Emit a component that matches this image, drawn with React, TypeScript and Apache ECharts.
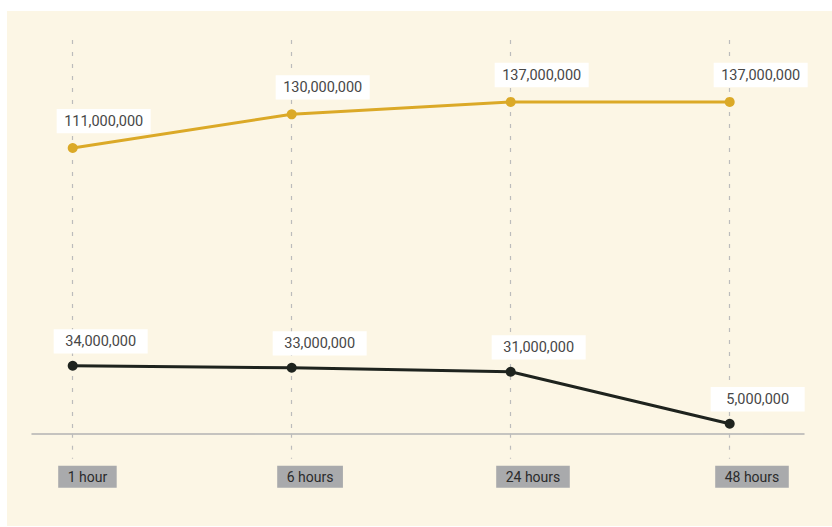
import React, { useEffect, useRef } from "react";
import * as echarts from "echarts";

const categories = ["1 hour", "6 hours", "24 hours", "48 hours"];
const goldValues = [111000000, 130000000, 137000000, 137000000];
const darkValues = [34000000, 33000000, 31000000, 5000000];

const FONT = "Roboto, 'Liberation Sans', sans-serif";
const GOLD = "#dba927";
const DARK = "#1e231e";

const fmt = (v: number) => v.toLocaleString("en-US");

export default function App() {
  const ref = useRef<HTMLDivElement>(null);
  useEffect(() => {
    if (!ref.current) return;
    const chart = echarts.init(ref.current, undefined, { renderer: "svg" });
    const gridBox = { top: 29, bottom: 92.3 };
    const dashStyle = { color: "#bcbcbc", width: 1.2, type: [4, 8] };
    const dataLabel = (dx: number, dist: number) => ({
      show: true,
      position: "top",
      distance: dist,
      offset: [dx, 0],
      formatter: (p: any) => fmt(p.value),
      backgroundColor: "#ffffff",
      width: 94,
      align: "center",
      padding: [4, 0, 4, 0],
      lineHeight: 16.4,
      fontSize: 14.5,
      fontFamily: FONT,
      color: "#474747",
    });
    chart.setOption({
      animation: false,
      backgroundColor: "transparent",
      grid: [
        { left: 65.7, right: 102.3, ...gridBox },
        { left: 25, right: 28, ...gridBox },
        { left: 51.2, right: 116.8, ...gridBox },
      ],
      xAxis: [
        {
          type: "category",
          gridIndex: 0,
          data: categories,
          boundaryGap: false,
          axisLine: { show: false },
          axisLabel: { show: false },
          axisTick: { show: true, length: 25, lineStyle: dashStyle },
          splitLine: { show: true, lineStyle: dashStyle },
        },
        {
          type: "value",
          gridIndex: 1,
          min: 0,
          max: 1,
          axisLine: { show: true, onZero: false, lineStyle: { color: "#b3b3b3", width: 1.5 } },
          axisTick: { show: false },
          axisLabel: { show: false },
          splitLine: { show: false },
        },
        {
          type: "category",
          gridIndex: 2,
          data: categories,
          boundaryGap: false,
          axisLine: { show: false },
          axisTick: { show: false },
          splitLine: { show: false },
          axisLabel: {
            show: true,
            align: "left",
            margin: 32,
            interval: 0,
            backgroundColor: "#a9aaac",
            padding: [2.5, 9.5, 2.5, 9.5],
            lineHeight: 17,
            fontSize: 14,
            fontFamily: FONT,
            color: "#2b2b2b",
          },
        },
      ],
      yAxis: [
        { type: "value", gridIndex: 0, min: 0, max: 197000000, show: false, splitLine: { show: false } },
        { type: "value", gridIndex: 0, min: -50100000, max: 171900000, show: false, splitLine: { show: false } },
        { type: "value", gridIndex: 1, show: false, splitLine: { show: false } },
        { type: "value", gridIndex: 2, show: false, splitLine: { show: false } },
      ],
      series: [
        {
          type: "line",
          xAxisIndex: 0,
          yAxisIndex: 1,
          data: goldValues,
          symbol: "circle",
          symbolSize: 10,
          lineStyle: { color: GOLD, width: 3 },
          itemStyle: { color: GOLD },
          label: dataLabel(31, 9.7),
          z: 3,
        },
        {
          type: "line",
          xAxisIndex: 0,
          yAxisIndex: 0,
          data: darkValues,
          symbol: "circle",
          symbolSize: 10,
          lineStyle: { color: DARK, width: 3 },
          itemStyle: { color: DARK },
          label: dataLabel(28, 7.2),
          z: 3,
        },
      ],
    });
    return () => chart.dispose();
  }, []);
  return (
    <div
      ref={ref}
      style={{
        position: "absolute",
        left: 7,
        top: 11,
        width: 825,
        height: 515,
        background: "#fcf6e5",
      }}
    />
  );
}
